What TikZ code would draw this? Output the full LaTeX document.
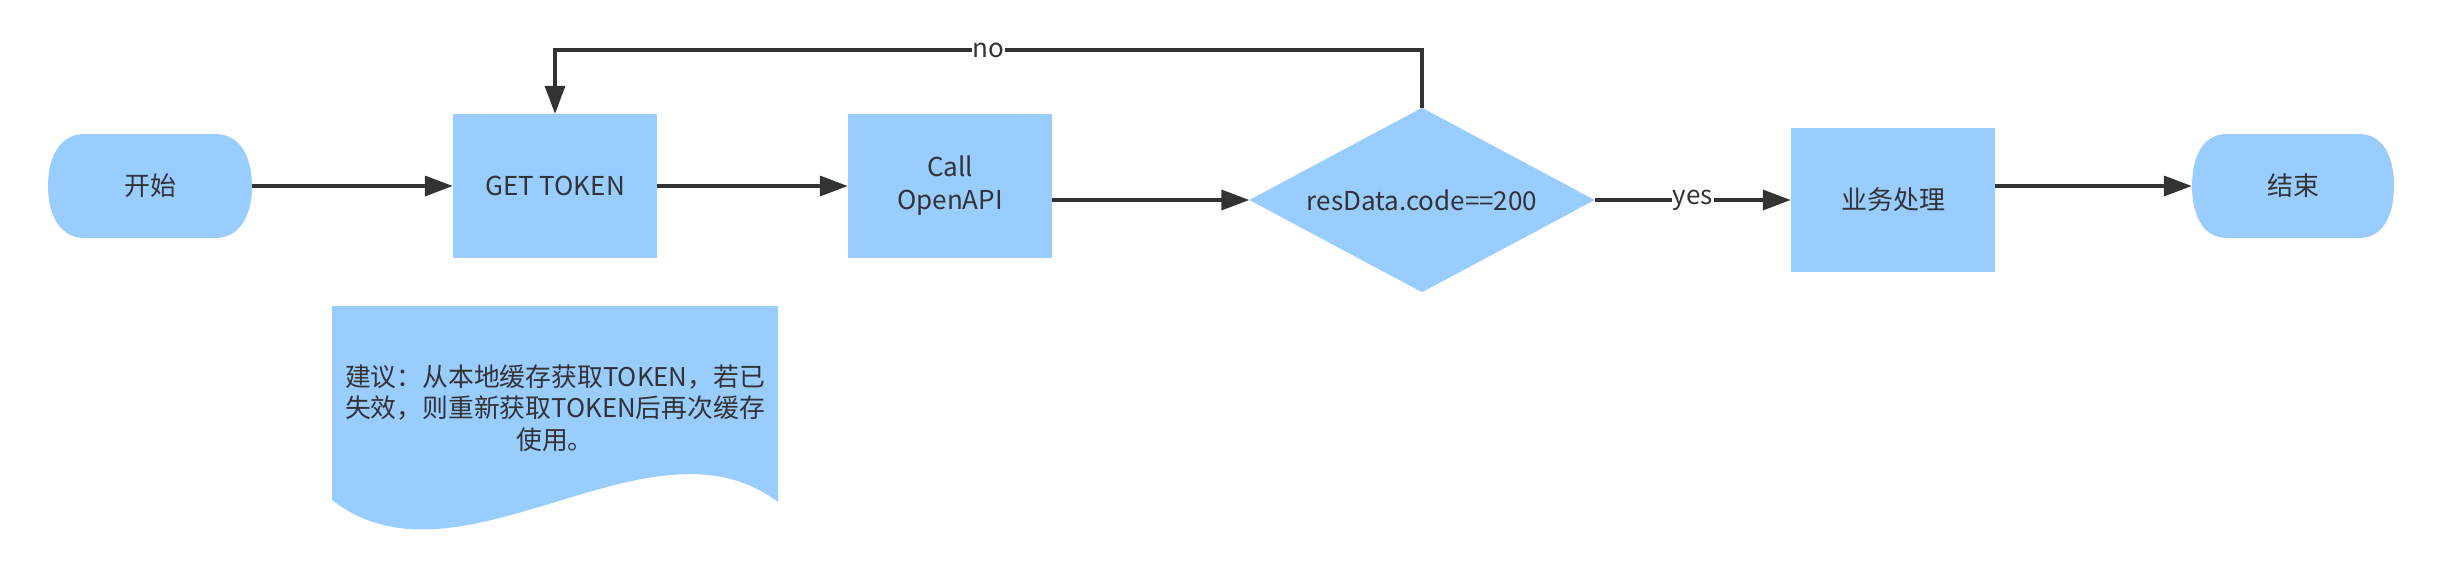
\documentclass[tikz,border=0pt]{standalone}
\usepackage{fontspec}
\setmainfont{Noto Sans CJK SC}
\usetikzlibrary{arrows.meta}
\definecolor{boxblue}{HTML}{99CCFF}
\definecolor{ink}{HTML}{333333}
\begin{document}
\begin{tikzpicture}[x=1pt,y=-1pt,
  txt/.style={text=ink,font=\fontsize{26}{33}\selectfont,align=center},
  box/.style={txt,fill=boxblue,minimum width=204pt,minimum height=144pt,inner sep=0pt},
  ghost/.style={txt,inner sep=0pt},
  conn/.style={draw=ink,line width=3.5pt,-{Triangle[length=28pt,width=20pt]}},
  lbl/.style={txt,fill=white,inner sep=1pt}]
\useasboundingbox (0,0) rectangle (2443,576);
% terminators
\node[ghost,minimum width=204pt,minimum height=104pt] (start) at (150,186) {};
\fill[boxblue] (85,134) -- (215,134) .. controls (242,134) and (252,160) .. (252,186)
  .. controls (252,212) and (242,238) .. (215,238) -- (85,238)
  .. controls (58,238) and (48,212) .. (48,186) .. controls (48,160) and (58,134) .. (85,134) -- cycle;
\node[txt] at (start) {开始};
\node[ghost,minimum width=202pt,minimum height=104pt] (end) at (2293,186) {};
\fill[boxblue] (2227,134) -- (2359,134) .. controls (2385,134) and (2394,160) .. (2394,186)
  .. controls (2394,212) and (2385,238) .. (2359,238) -- (2227,238)
  .. controls (2201,238) and (2192,212) .. (2192,186) .. controls (2192,160) and (2201,134) .. (2227,134) -- cycle;
\node[txt] at (end) {结束};
% process boxes
\node[box] (get) at (555,186) {GET TOKEN};
\node[box] (call) at (950,186) {Call\\OpenAPI};
\node[box] (proc) at (1893,200) {业务处理};
% decision
\node[ghost,minimum width=345pt,minimum height=184pt] (dec) at (1422,200) {};
\fill[boxblue] (dec.west) -- (dec.north) -- (dec.east) -- (dec.south) -- cycle;
\node[txt] at (dec) {resData.code==200};
% document note
\node[ghost,minimum width=446pt,minimum height=221pt] (note) at (555,416) {};
\fill[boxblue] (332,306) -- (778,306) -- (778,502) .. controls (650,405) and (460,600) .. (332,500) -- cycle;
\node[txt,font=\fontsize{25.8}{31.5}\selectfont] at (555,408) {建议：从本地缓存获取TOKEN，若已\\失效，则重新获取TOKEN后再次缓存\\使用。};
% connectors
\draw[conn] (start.east) -- (get.west);
\draw[conn] (get.east) -- (call.west);
\draw[conn] (call.east |- dec.west) -- (dec.west);
\draw[conn] (dec.east) -- node[lbl] {yes} (proc.west);
\draw[conn] (proc.east |- end.west) -- (end.west);
\coordinate (top) at (1422,50);
\draw[conn] (dec.north) -- (top) -| node[lbl,pos=0.25] {no} (get.north);
\end{tikzpicture}
\end{document}
